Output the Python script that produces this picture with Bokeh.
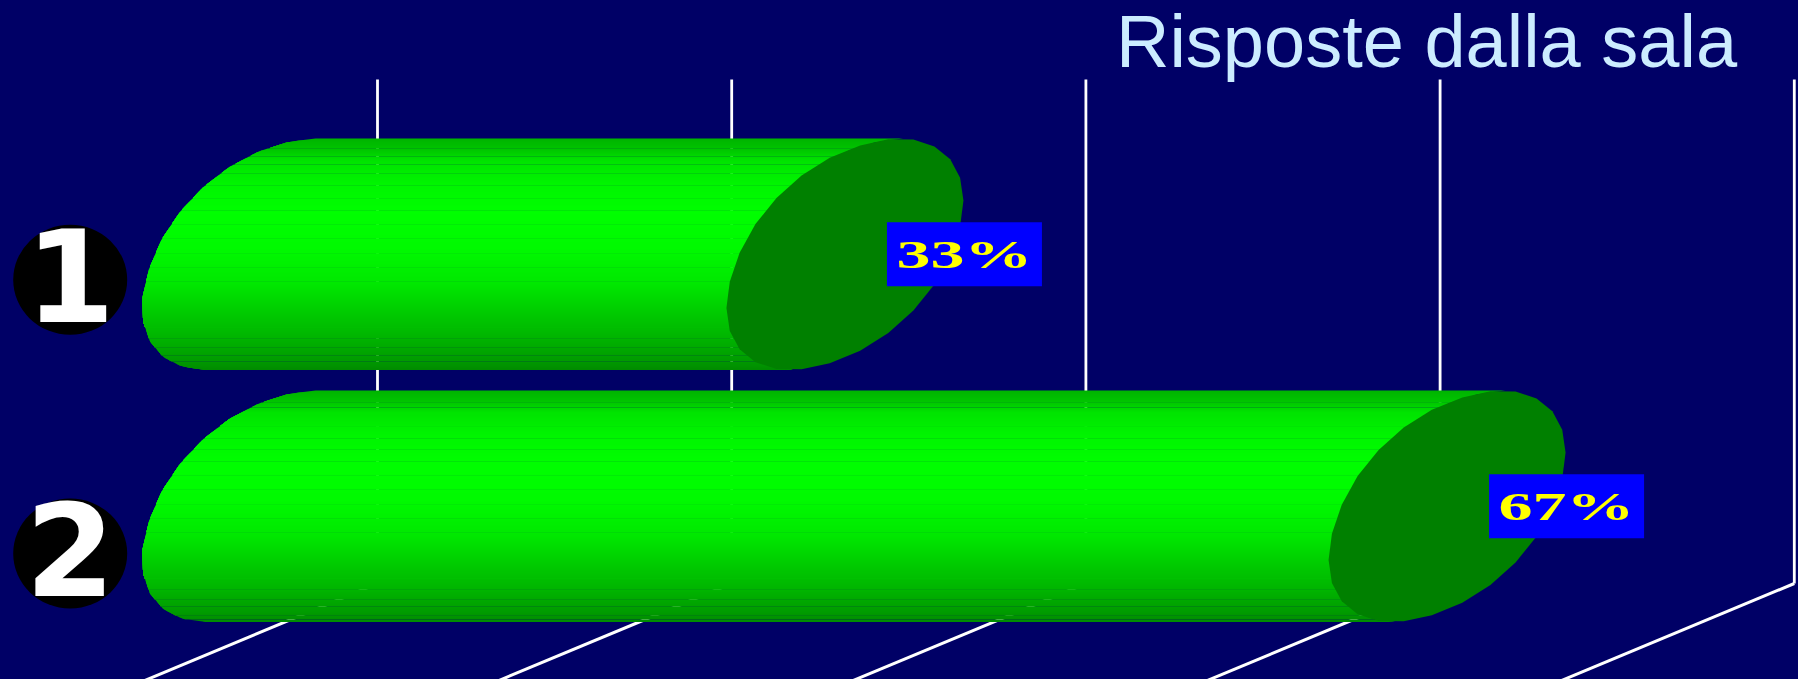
import numpy as np
from bokeh.core.properties import value
from bokeh.embed import file_html
from bokeh.events import DocumentReady
from bokeh.io import curdoc
from bokeh.models import ColumnDataSource, CustomJS, Range1d
from bokeh.plotting import figure
from bokeh.resources import INLINE

# Chart content
title_text = "Risposte dalla sala"
categories = ["1", "2"]
percent_values = [33, 67]
percent_labels = ["33%", "67%"]
axis_ticks = [0, 20, 40, 60, 80]

# Horizontal scale and vertical layout, in page pixels
PX_PER_PCT = 17.71
ZERO_PX = 377.0
WIDTH, HEIGHT = 1798, 679
WALL_TOP, WALL_BOTTOM = 79, 583
FLOOR_SLOPE = 0.4168
BAR_ZERO_PX = 260.0
BAR_CY = [253.8, 505.8]
BAR_A, BAR_B = 118.5, 115.7
TILT = np.radians(27)
ROUNDNESS = 0.97
BADGE_CY = [279.3, 553.0]
BADGE_X = 69.7
LABEL_DX = 42.0

# Facet seams of each cylinder, measured down from its top edge
SEAMS = [
    [10, 18, 26, 35, 47, 60, 72, 86, 100, 115, 129, 143, 189, 200, 209, 217, 223],
    [12, 17, 36, 48, 59, 71, 85, 99, 114, 128, 142, 188, 199, 209, 216, 225, 229],
]
SEAM_GAP = 0.45

# Shading down the cylinder: offset from the top edge against green level
SHADE_AT = [0, 10, 22, 45, 75, 110, 145, 172, 200, 222, 231]
SHADE_G = [180, 195, 228, 245, 255, 250, 232, 205, 180, 155, 140]


def px_x(px):
    return (np.asarray(px, dtype=float) - ZERO_PX) / PX_PER_PCT


def soft(v):
    # Pushes a unit circle slightly towards a rounded box
    return np.sign(v) * np.abs(v) ** ROUNDNESS


def outline(cx, cy, n=26):
    t = np.linspace(0, 2 * np.pi, n, endpoint=False)
    return cx + BAR_A * soft(np.cos(t)), cy - BAR_B * soft(np.sin(t + TILT))


def left_edge(cy):
    # Left half of the tilted end, from the topmost to the bottommost point
    t = np.linspace(np.pi / 2 - TILT, 3 * np.pi / 2 - TILT, 14)
    return BAR_A * soft(np.cos(t)), cy - BAR_B * soft(np.sin(t + TILT))


p = figure(
    width=WIDTH, height=HEIGHT, output_backend="svg", toolbar_location=None,
    x_range=Range1d(px_x(0), px_x(WIDTH)), y_range=Range1d(HEIGHT, 0),
    min_border=0, background_fill_color="#000066", border_fill_color="#000066",
    outline_line_color=None,
)
p.styles = {"background-color": "#000066"}
p.axis.visible = False
p.grid.visible = False

# Back wall and floor rules at each tick
tick_px = ZERO_PX + np.array(axis_ticks) * PX_PER_PCT
p.segment(x0=axis_ticks, x1=axis_ticks, y0=[WALL_TOP] * 5, y1=[WALL_BOTTOM] * 5,
          line_color="white", line_width=2.8)
floor_end = HEIGHT + 10
p.segment(x0=axis_ticks,
          x1=px_x(tick_px - (floor_end - WALL_BOTTOM) / FLOOR_SLOPE),
          y0=[WALL_BOTTOM] * 5, y1=[floor_end] * 5,
          line_color="white", line_width=3)

for i, val in enumerate(percent_values):
    cy = BAR_CY[i]
    top = cy - BAR_B
    end_px = BAR_ZERO_PX + val * PX_PER_PCT
    chain_x, chain_y = left_edge(cy)

    # Cylinder body: thin shaded rows inside each facet, with a hairline gap
    # between facets that lets whatever is behind the bar show through.
    edges = [0] + SEAMS[i] + [2 * BAR_B]
    xs, ys, colors = [], [], []
    for a, b in zip(edges[:-1], edges[1:]):
        bottom = b - SEAM_GAP if b < 2 * BAR_B else b
        for r0 in np.arange(a, bottom, 2.0):
            rows = np.append(np.arange(r0, bottom, 2.0), bottom) + top
            lx = BAR_ZERO_PX + np.interp(rows, chain_y, chain_x)
            rx = lx + (end_px - BAR_ZERO_PX) + 3
            xs.append(px_x(np.concatenate([lx, rx[::-1]])).tolist())
            ys.append(np.concatenate([rows, rows[::-1]]).tolist())
            g = int(np.interp(r0 + 1, SHADE_AT, SHADE_G))
            colors.append(f"#00{g:02x}00")
    p.patches(xs, ys, fill_color=colors, line_color=None)

    # Flat cut end of the cylinder
    ex, ey = outline(end_px, cy)
    p.patch(px_x(ex), ey, fill_color="#008000", line_color=None)

# Numbered badges
badges = ColumnDataSource(dict(x=px_x([BADGE_X] * 2), y=BADGE_CY, text=categories))
p.ellipse(x="x", y="y", width=114 / PX_PER_PCT, height=110, source=badges,
          fill_color="black", line_color=None)
p.text(x="x", y="y", text="text", source=badges, text_color="white",
       text_font=value("DejaVu Sans"), text_font_style="bold", text_font_size="129px",
       text_align="center", text_baseline="middle", y_offset=-5)

# Value labels at the end of each bar
label_x = px_x(BAR_ZERO_PX + np.array(percent_values) * PX_PER_PCT + LABEL_DX + 77.5)
labels = ColumnDataSource(dict(x=label_x, y=BAR_CY, text=percent_labels))
p.rect(x="x", y="y", width=155 / PX_PER_PCT, height=64, source=labels,
       fill_color="#0000ff", line_color=None)
p.text(x="x", y="y", text="text", source=labels, text_color="#ffff00",
       text_font=value("Liberation Serif"), text_font_style="bold", text_font_size="40px",
       text_align="center", text_baseline="middle")

# Title
p.text(x=[px_x(1426)], y=[41], text=[title_text], text_color="#ccecff",
       text_font=value("Liberation Sans"), text_font_size="74px",
       text_align="center", text_baseline="alphabetic")

# The percentage labels are set in an extended face: widen them about their centres
widen = CustomJS(code="""
function walk(root, found) {
  root.querySelectorAll('*').forEach(el => {
    if (el.tagName.toLowerCase() === 'text' && /%$/.test(el.textContent)) found.push(el);
    if (el.shadowRoot) walk(el.shadowRoot, found);
  });
  return found;
}
function apply(tries) {
  const items = walk(document, []);
  if (!items.length && tries > 0) { setTimeout(() => apply(tries - 1), 100); return; }
  items.forEach(el => {
    const b = el.getBBox();
    const c = b.x + b.width / 2;
    const old = el.getAttribute('transform') || '';
    el.setAttribute('transform', `${old} translate(${c} 0) scale(1.7 1) translate(${-c} 0)`);
  });
}
apply(30);
""")
doc = curdoc()
doc.js_on_event(DocumentReady, widen)
doc.add_root(p)

open("out.html", "w").write(file_html(doc, INLINE))
